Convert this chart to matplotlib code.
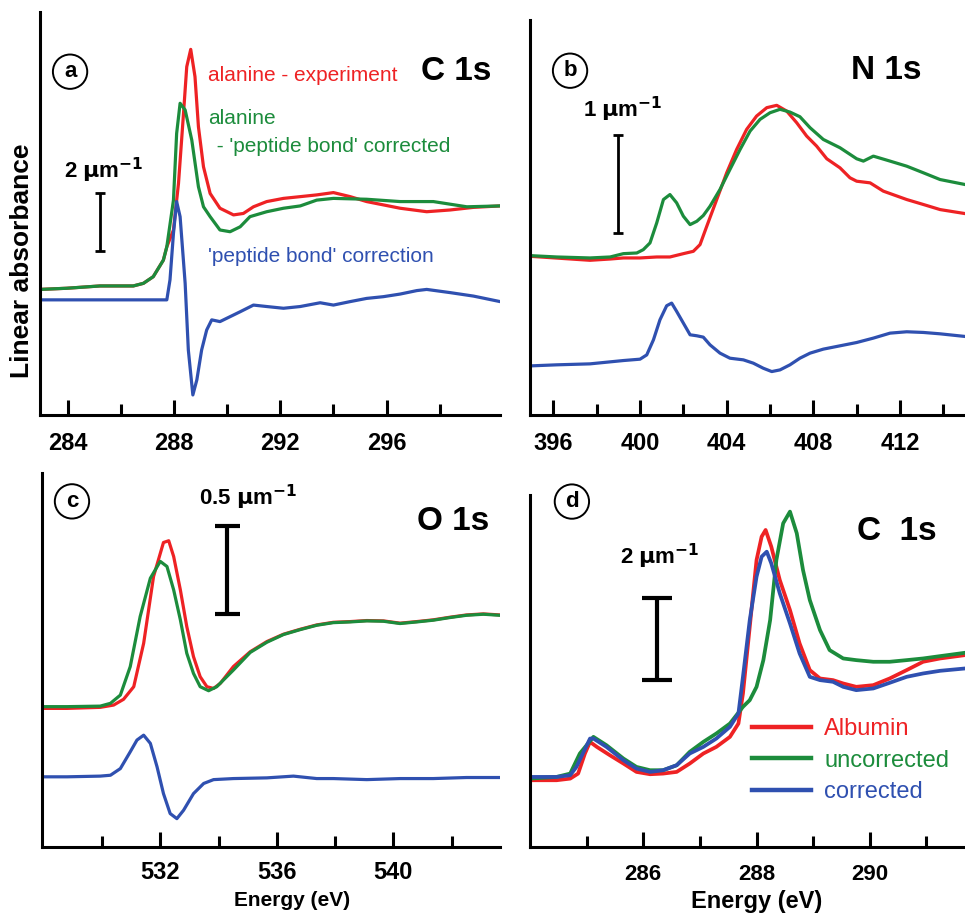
import matplotlib
matplotlib.use('Agg')
import matplotlib.pyplot as plt
from matplotlib import font_manager

# pick a narrow face if the system has one
names = {f.name for f in font_manager.fontManager.ttflist}
narrow = 'Liberation Sans Narrow' if 'Liberation Sans Narrow' in names else 'Liberation Sans'
wide = 'Liberation Sans'
plt.rcParams['font.family'] = [wide, 'DejaVu Sans']

RED = '#ee2224'
GREEN = '#1c8c3c'
BLUE = '#2f50b0'

# ---- (a) C 1s alanine ----
a_red_E = [282.96, 283.96, 285.22, 286.47, 286.85, 287.22, 287.60, 287.73, 287.98, 288.17, 288.35, 288.48, 288.63,
           288.79, 288.92, 289.11, 289.36, 289.73, 290.24, 290.61, 290.99, 291.49, 292.12, 292.75, 293.37, 294.00,
           294.63, 295.25, 296.51, 297.51, 298.39, 299.27, 300.27]
a_red = [4.33, 4.37, 4.45, 4.45, 4.54, 4.77, 5.34, 5.80, 6.38, 7.99, 10.29, 12.01, 12.61,
         11.67, 9.94, 8.56, 7.64, 7.13, 6.90, 6.95, 7.18, 7.36, 7.47, 7.53, 7.59, 7.67,
         7.53, 7.36, 7.13, 7.01, 7.07, 7.16, 7.21]
a_green_E = [282.96, 283.96, 285.22, 286.47, 286.85, 287.22, 287.60, 287.73, 287.98, 288.10, 288.23, 288.42, 288.67,
             288.92, 289.11, 289.36, 289.73, 290.11, 290.49, 290.86, 291.49, 292.12, 292.75, 293.37, 294.00, 295.25,
             296.51, 297.76, 299.02, 300.27]
a_green = [4.33, 4.37, 4.45, 4.45, 4.54, 4.77, 5.34, 5.80, 7.41, 9.71, 10.75, 10.52, 9.48,
           7.87, 7.18, 6.84, 6.38, 6.32, 6.49, 6.84, 7.01, 7.13, 7.21, 7.41, 7.47, 7.44,
           7.36, 7.36, 7.18, 7.21]
a_blue_E = [282.96, 287.73, 287.85, 287.98, 288.10, 288.23, 288.42, 288.54, 288.71, 288.86, 289.04, 289.23, 289.42,
            289.73, 290.11, 290.49, 290.99, 291.49, 292.12, 292.75, 293.50, 294.00, 294.63, 295.25, 295.88, 296.51,
            297.14, 297.51, 298.39, 299.27, 300.27]
a_blue = [3.97, 3.97, 4.66, 6.26, 7.36, 6.84, 4.54, 2.24, 0.69, 1.21, 2.24, 2.93, 3.28,
          3.22, 3.39, 3.56, 3.79, 3.74, 3.68, 3.74, 3.87, 3.79, 3.91, 4.02, 4.08, 4.17,
          4.29, 4.33, 4.22, 4.10, 3.91]

# ---- (b) N 1s ----
b_green_E = [394.92, 396.15, 397.69, 398.62, 399.23, 399.85, 400.15, 400.46, 400.77, 401.08, 401.38, 401.69, 402.00,
             402.31, 402.62, 402.92, 403.23, 403.69, 404.15, 404.62, 405.08, 405.54, 406.00, 406.46, 406.92, 407.38,
             407.85, 408.46, 409.23, 410.00, 410.31, 410.77, 411.54, 412.31, 413.08, 413.85, 415.00]
b_green = [1.634, 1.620, 1.610, 1.620, 1.654, 1.661, 1.695, 1.764, 1.969, 2.209, 2.260, 2.175, 2.038,
           1.952, 1.986, 2.045, 2.140, 2.312, 2.517, 2.723, 2.911, 3.031, 3.099, 3.134, 3.106, 3.058,
           2.945, 2.825, 2.740, 2.627, 2.603, 2.654, 2.603, 2.551, 2.483, 2.414, 2.363]
b_red_E = [394.92, 397.69, 398.62, 399.23, 400.00, 400.77, 401.38, 402.00, 402.46, 402.77, 403.08, 403.54, 404.00,
           404.46, 404.92, 405.38, 405.85, 406.31, 406.77, 407.23, 407.69, 408.15, 408.62, 409.23, 409.69, 410.00,
           410.62, 411.23, 412.31, 413.08, 413.85, 415.00]
b_red = [1.627, 1.586, 1.599, 1.610, 1.610, 1.620, 1.620, 1.654, 1.678, 1.747, 1.935, 2.209, 2.483,
         2.723, 2.928, 3.065, 3.151, 3.175, 3.116, 2.997, 2.860, 2.757, 2.627, 2.534, 2.432, 2.397,
         2.380, 2.295, 2.209, 2.158, 2.106, 2.065]
b_blue_E = [394.92, 396.15, 397.69, 399.23, 400.00, 400.31, 400.62, 400.92, 401.23, 401.46, 401.69, 402.00, 402.31,
            402.62, 402.92, 403.23, 403.69, 404.15, 404.77, 405.23, 405.69, 406.08, 406.46, 406.92, 407.38, 407.85,
            408.46, 409.23, 410.00, 410.77, 411.54, 412.31, 413.08, 413.85, 415.00]
b_blue = [0.503, 0.514, 0.524, 0.558, 0.572, 0.616, 0.771, 0.976, 1.120, 1.147, 1.062, 0.942, 0.822,
          0.812, 0.798, 0.719, 0.634, 0.582, 0.565, 0.531, 0.479, 0.445, 0.462, 0.514, 0.582, 0.634,
          0.675, 0.709, 0.743, 0.788, 0.839, 0.853, 0.846, 0.832, 0.805]

# ---- (c) O 1s ----
c_red_E = [527.94, 528.80, 529.94, 530.40, 530.74, 531.09, 531.43, 531.77, 532.11, 532.29, 532.46, 532.69, 532.91,
           533.14, 533.37, 533.60, 533.83, 534.06, 534.51, 535.09, 535.66, 536.23, 536.80, 537.37, 537.94, 538.51,
           539.09, 539.66, 540.23, 540.80, 541.37, 541.94, 542.51, 543.09, 543.66]
c_red = [0.792, 0.792, 0.798, 0.811, 0.844, 0.916, 1.164, 1.546, 1.740, 1.750, 1.660, 1.469, 1.260,
         1.088, 0.973, 0.916, 0.906, 0.935, 1.031, 1.116, 1.174, 1.216, 1.244, 1.269, 1.284, 1.288,
         1.294, 1.292, 1.279, 1.288, 1.298, 1.313, 1.326, 1.332, 1.326]
c_green_E = [527.94, 528.80, 529.94, 530.29, 530.63, 530.97, 531.31, 531.66, 532.00, 532.23, 532.46, 532.69, 532.91,
             533.14, 533.37, 533.66, 533.94, 534.51, 535.09, 535.66, 536.23, 536.80, 537.37, 537.94, 538.51, 539.09,
             539.66, 540.23, 540.80, 541.37, 541.94, 542.51, 543.09, 543.66]
c_green = [0.802, 0.802, 0.805, 0.821, 0.868, 1.031, 1.317, 1.536, 1.632, 1.603, 1.469, 1.298, 1.107,
           0.992, 0.916, 0.893, 0.916, 1.011, 1.112, 1.170, 1.214, 1.242, 1.267, 1.282, 1.286, 1.292,
           1.290, 1.277, 1.286, 1.296, 1.311, 1.324, 1.330, 1.324]
c_blue_E = [527.94, 528.80, 529.94, 530.29, 530.63, 530.97, 531.20, 531.43, 531.66, 531.89, 532.11, 532.34, 532.57,
            532.80, 533.14, 533.49, 533.83, 534.51, 535.66, 536.57, 537.37, 537.94, 539.09, 540.23, 541.37, 542.51,
            543.66]
c_blue = [0.401, 0.401, 0.405, 0.410, 0.448, 0.544, 0.611, 0.639, 0.592, 0.458, 0.305, 0.191, 0.162,
          0.210, 0.305, 0.363, 0.385, 0.391, 0.395, 0.405, 0.391, 0.391, 0.385, 0.391, 0.391, 0.397,
          0.397]

# ---- (d) C 1s albumin ----
d_red_E = [284.00, 284.47, 284.71, 284.85, 284.97, 285.06, 285.18, 285.41, 285.65, 285.88, 286.12, 286.35, 286.59,
           286.82, 287.06, 287.29, 287.53, 287.68, 287.76, 287.88, 288.00, 288.09, 288.16, 288.26, 288.41, 288.59,
           288.76, 288.94, 289.12, 289.35, 289.53, 289.76, 290.06, 290.35, 290.65, 290.94, 291.24, 291.68]
d_red = [1.633, 1.633, 1.673, 1.796, 2.286, 2.571, 2.449, 2.245, 2.041, 1.837, 1.780, 1.796, 1.837,
         2.041, 2.286, 2.449, 2.694, 3.020, 3.755, 5.388, 7.020, 7.592, 7.755, 7.347, 6.531, 5.796,
         4.980, 4.327, 4.122, 4.082, 4.000, 3.918, 3.959, 4.122, 4.327, 4.531, 4.612, 4.694]
d_green_E = [284.00, 284.47, 284.71, 284.88, 285.12, 285.35, 285.65, 285.88, 286.12, 286.35, 286.59, 286.82, 287.06,
             287.29, 287.53, 287.76, 287.88, 288.00, 288.12, 288.24, 288.35, 288.47, 288.59, 288.71, 288.82, 288.94,
             289.12, 289.29, 289.53, 289.76, 290.06, 290.35, 290.65, 290.94, 291.24, 291.68]
d_green = [1.673, 1.714, 1.796, 2.286, 2.694, 2.490, 2.163, 1.959, 1.878, 1.878, 2.000, 2.327, 2.571,
           2.776, 3.020, 3.429, 3.592, 3.918, 4.571, 5.551, 7.020, 7.918, 8.204, 7.673, 6.776, 6.041,
           5.306, 4.816, 4.612, 4.571, 4.531, 4.531, 4.571, 4.612, 4.669, 4.751]
d_blue_E = [284.00, 284.47, 284.71, 284.82, 285.06, 285.12, 285.35, 285.65, 285.88, 286.12, 286.35, 286.59, 286.82,
            287.06, 287.29, 287.53, 287.68, 287.76, 287.88, 288.00, 288.09, 288.18, 288.26, 288.41, 288.59, 288.76,
            288.94, 289.12, 289.35, 289.53, 289.76, 290.06, 290.35, 290.65, 290.94, 291.24, 291.68]
d_blue = [1.714, 1.714, 1.755, 1.959, 2.653, 2.653, 2.449, 2.122, 1.918, 1.837, 1.878, 2.000, 2.286,
          2.449, 2.653, 2.939, 3.265, 4.163, 5.551, 6.612, 7.102, 7.224, 6.939, 6.204, 5.469, 4.735,
          4.163, 4.082, 4.041, 3.918, 3.837, 3.878, 4.016, 4.163, 4.245, 4.310, 4.367]
d_labels = ['Albumin', 'uncorrected', 'corrected']

fig = plt.figure(figsize=(9.65, 9.13), dpi=100)
axA = fig.add_axes([0.0415, 0.5455, 0.4767, 0.4414])
axB = fig.add_axes([0.5492, 0.5455, 0.4508, 0.4326])
axC = fig.add_axes([0.0435, 0.0723, 0.4746, 0.4096])
axD = fig.add_axes([0.5492, 0.0723, 0.4508, 0.3855])

LW = 2.3


def style(ax, xlim, ylim, major, minor, font, size, pad):
    ax.set_xlim(*xlim)
    ax.set_ylim(*ylim)
    for s in ['top', 'right']:
        ax.spines[s].set_visible(False)
    for s in ['left', 'bottom']:
        ax.spines[s].set_linewidth(2.2)
    ax.set_yticks([])
    ax.set_xticks(major)
    ax.set_xticks(minor, minor=True)
    ax.tick_params(axis='x', which='major', direction='in', length=11, width=2.2, pad=pad)
    ax.tick_params(axis='x', which='minor', direction='in', length=8, width=2.2)
    for lab in ax.get_xticklabels():
        lab.set_fontfamily([font, 'DejaVu Sans'])
        lab.set_fontweight('bold')
        lab.set_fontsize(size)


def circ(ax, x, y, letter):
    ax.text(x, y, letter, ha='center', va='center', fontsize=16, fontweight='bold',
            family=[wide, 'DejaVu Sans'],
            bbox=dict(boxstyle='circle,pad=0.3', fc='none', ec='black', lw=1.4))


def scalebar(ax, x, y0, y1, cap, lw, label, tx, ty, size, font):
    ax.errorbar([x], [(y0 + y1) / 2], yerr=[(y1 - y0) / 2], color='black', capsize=cap,
                elinewidth=lw, capthick=lw)
    ax.text(tx, ty, label, ha='center', va='center', fontsize=size, fontweight='bold',
            family=[font, 'DejaVu Sans'])


# (a)
axA.plot(a_red_E, a_red, color=RED, lw=LW)
axA.plot(a_green_E, a_green, color=GREEN, lw=LW)
axA.plot(a_blue_E, a_blue, color=BLUE, lw=LW)
style(axA, (282.96, 300.27), (0, 13.9), [284, 288, 292, 296], [286, 290, 294, 298], narrow, 17, 12)
circ(axA, 284.09, 11.84, 'a')
axA.text(299.96, 11.84, 'C 1s', ha='right', va='center', fontsize=24, fontweight='bold')
axA.text(289.29, 11.72, 'alanine - experiment', color=RED, va='center', fontsize=15, family=[narrow, 'DejaVu Sans'])
axA.text(289.29, 10.23, 'alanine', color=GREEN, va='center', fontsize=15, family=[narrow, 'DejaVu Sans'])
axA.text(289.40, 9.25, " - 'peptide bond' corrected", color=GREEN, va='center', fontsize=15,
         family=[narrow, 'DejaVu Sans'])
axA.text(289.29, 5.46, "'peptide bond' correction", color=BLUE, va='center', fontsize=15,
         family=[narrow, 'DejaVu Sans'])
scalebar(axA, 285.22, 5.67, 7.67, 3.5, 2.0, r'2 $\mathbf{\mu}$m$^{\mathbf{-1}}$', 285.35, 8.45, 16, narrow)

# (b)
axB.plot(b_red_E, b_red, color=RED, lw=LW)
axB.plot(b_green_E, b_green, color=GREEN, lw=LW)
axB.plot(b_blue_E, b_blue, color=BLUE, lw=LW)
style(axB, (394.92, 415.0), (0, 4.05), [396, 400, 404, 408, 412], [398, 402, 406, 410, 414], narrow, 17, 12)
circ(axB, 396.77, 3.53, 'b')
axB.text(413.0, 3.53, 'N 1s', ha='right', va='center', fontsize=24, fontweight='bold')
scalebar(axB, 399.0, 1.87, 2.87, 3.5, 2.0, r'1 $\mathbf{\mu}$m$^{\mathbf{-1}}$', 399.2, 3.13, 16, narrow)

# (c)
axC.plot(c_red_E, c_red, color=RED, lw=LW)
axC.plot(c_green_E, c_green, color=GREEN, lw=LW)
axC.plot(c_blue_E, c_blue, color=BLUE, lw=LW)
style(axC, (527.94, 543.66), (0, 2.137), [532, 536, 540], [530, 534, 538, 542], narrow, 17, 10)
circ(axC, 528.97, 1.975, 'c')
axC.text(543.3, 1.86, 'O 1s', ha='right', va='center', fontsize=24, fontweight='bold')
scalebar(axC, 534.29, 1.332, 1.832, 9, 3.0, r'0.5 $\mathbf{\mu}$m$^{\mathbf{-1}}$', 535.03, 2.0, 16, narrow)
axC.set_xlabel('Energy (eV)', fontsize=15, fontweight='bold', family=[narrow, 'DejaVu Sans'])
axC.xaxis.set_label_coords(0.546, -0.118)

# (d)
axD.plot(d_red_E, d_red, color=RED, lw=LW + 0.4, label=d_labels[0])
axD.plot(d_green_E, d_green, color=GREEN, lw=LW + 0.4, label=d_labels[1])
axD.plot(d_blue_E, d_blue, color=BLUE, lw=LW + 0.4, label=d_labels[2])
style(axD, (284.0, 291.68), (0, 8.61), [286, 288, 290], [285, 287, 289, 291], wide, 16, 12)
circ(axD, 284.74, 8.45, 'd')
axD.text(291.18, 7.71, 'C  1s', ha='right', va='center', fontsize=24, fontweight='bold')
scalebar(axD, 286.24, 4.08, 6.08, 11, 3.0, r'2 $\mathbf{\mu}$m$^{\mathbf{-1}}$', 286.3, 7.1, 16, wide)
axD.set_xlabel('Energy (eV)', fontsize=17, fontweight='bold')
axD.xaxis.set_label_coords(0.522, -0.122)
leg = axD.legend(loc='upper left', bbox_to_anchor=(0.462, 0.426), frameon=False, fontsize=17,
                 handlelength=2.5, handletextpad=0.55, labelspacing=0.4, labelcolor='linecolor')
for h in leg.get_lines():
    h.set_linewidth(3.2)

fig.text(0.023, 1 - 261 / 913, 'Linear absorbance', rotation=90, ha='center', va='center',
         fontsize=19, fontweight='bold')

fig.savefig('out.png', dpi=100)
